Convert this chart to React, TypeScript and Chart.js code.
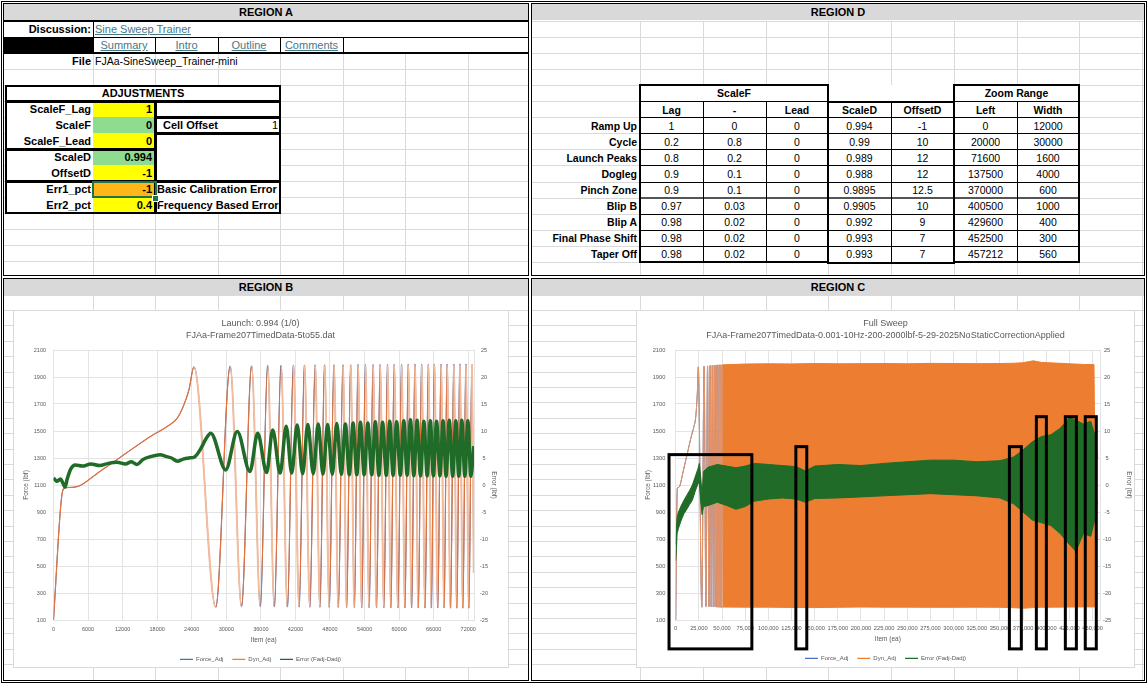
import React, { useEffect, useRef } from 'react';
import { Chart, registerables } from 'chart.js';
Chart.register(...registerables);

// ---------------- TABLE DATA ----------------
const linkLabels = ['Summary', 'Intro', 'Outline', 'Comments'];
const adjLabels = ['ScaleF_Lag', 'ScaleF', 'ScaleF_Lead', 'ScaleD', 'OffsetD', 'Err1_pct', 'Err2_pct'];
const adjValues = ['1', '0', '0', '0.994', '-1', '-1', '0.4'];
const adjNotes = ['', 'Cell Offset', '', '', '', 'Basic Calibration Error', 'Frequency Based Error'];
const adjNoteValues = ['', '1', '', '', '', '', ''];

const phaseHeaders = ['Lag', '-', 'Lead', 'ScaleD', 'OffsetD', 'Left', 'Width'];
const phaseNames = ['Ramp Up', 'Cycle', 'Launch Peaks', 'Dogleg', 'Pinch Zone', 'Blip B', 'Blip A', 'Final Phase Shift', 'Taper Off'];
const phaseLag = ['1', '0.2', '0.8', '0.9', '0.9', '0.97', '0.98', '0.98', '0.98'];
const phaseMid = ['0', '0.8', '0.2', '0.1', '0.1', '0.03', '0.02', '0.02', '0.02'];
const phaseLead = ['0', '0', '0', '0', '0', '0', '0', '0', '0'];
const phaseScaleD = ['0.994', '0.99', '0.989', '0.988', '0.9895', '0.9905', '0.992', '0.993', '0.993'];
const phaseOffsetD = ['-1', '10', '12', '12', '12.5', '10', '9', '7', '7'];
const zoomLeft = ['0', '20000', '71600', '137500', '370000', '400500', '429600', '452500', '457212'];
const zoomWidth = ['12000', '30000', '1600', '4000', '600', '1000', '400', '300', '560'];

// ---------------- CHART DATA ----------------
const forceTicks = [100, 300, 500, 700, 900, 1100, 1300, 1500, 1700, 1900, 2100];
const errorTicks = [-25, -20, -15, -10, -5, 0, 5, 10, 15, 20, 25];
const launchItemTicks = [0, 6000, 12000, 18000, 24000, 30000, 36000, 42000, 48000, 54000, 60000, 66000, 72000];
const sweepItemTicks = [0, 25000, 50000, 75000, 100000, 125000, 150000, 175000, 200000, 225000, 250000, 275000, 300000, 325000, 350000, 375000, 400000, 425000, 450000];
const legendNames = ['Force_Adj', 'Dyn_Adj', 'Error (Fadj-Dadj)'];

// Launch (Region B) Dyn_Adj vertices [item, lbf]
const launchDyn = [
  [0, 100], [1430, 1017], [2000, 1080], [3170, 1082], [4620, 1096], [5790, 1128], [8100, 1202], [11020, 1288],
  [13920, 1375], [16830, 1460], [19740, 1534], [21490, 1596], [22640, 1694], [23510, 1805],
  [24390, 1975], [28170, 195], [30670, 1980], [32640, 200], [34390, 1982], [35900, 200], [37180, 1985], [38340, 198],
  [39500, 1985], [40610, 196], [41650, 1988], [42640, 196], [43570, 1988], [44500, 195], [45430, 1990], [46250, 195],
  [47060, 1990], [47870, 194], [48690, 1990], [49440, 194], [50260, 1990], [50890, 193], [51590, 1990], [52230, 193],
  [52870, 1992], [53510, 192], [54150, 1992], [54790, 192], [55490, 1992], [56070, 192], [56710, 1992], [57350, 191],
  [57990, 1993], [58570, 191], [59150, 1993], [59790, 190], [60430, 1993], [61010, 190], [61590, 1994], [62170, 190],
  [62750, 1994], [63330, 190], [63910, 1994], [64500, 189], [65080, 1994], [65600, 189], [66120, 1995], [66710, 189],
  [67290, 1995], [67810, 189], [68330, 1995], [68920, 188], [69500, 1995], [70020, 188], [70540, 1996], [71070, 188],
  [71590, 1996], [72110, 188], [72640, 1996], [72950, 450],
];

// Launch (Region B) Error vertices [item, lbf]
const launchErr = [
  [0, 1.3], [600, 0.7], [1200, 1.1], [1700, 0.2], [2000, -0.4], [2400, 1.2], [3000, 3.0], [3800, 3.7], [5000, 3.5],
  [6500, 3.9], [8000, 3.6], [9500, 4.0], [11000, 4.2], [12500, 3.9], [13500, 4.3], [14500, 3.8], [15500, 4.7],
  [17000, 5.3], [18500, 5.6], [19500, 5.3], [20500, 5.0], [21500, 4.4], [22500, 4.8], [23500, 5.0], [24500, 5.2],
  [25500, 6.6], [26500, 8.6], [27300, 9.6], [29900, 2.8], [31900, 9.9], [34100, 2.5], [35450, 9.6], [37000, 2.3],
  [38050, 10.2], [39350, 2.2], [40400, 10.9], [41350, 2.2], [42300, 11.1], [43250, 2.1], [44150, 11.2], [45100, 2.1],
  [45960, 11.3], [46780, 2.0], [47590, 11.2], [48400, 2.0], [49180, 11.4], [49970, 2.0], [50670, 11.3], [51350, 1.9],
  [52010, 11.5], [52650, 1.9], [53290, 11.6], [53930, 1.9], [54570, 11.5], [55250, 1.9], [55870, 11.7], [56490, 1.8],
  [57130, 11.6], [57770, 1.8], [58370, 11.8], [58950, 1.8], [59570, 11.7], [60210, 1.8], [60810, 11.9], [61390, 1.8],
  [61970, 12.1], [62550, 1.7], [63130, 12.0], [63710, 1.7], [64290, 11.8], [64880, 1.7], [65420, 11.9], [65940, 1.7],
  [66500, 11.8], [67090, 1.7], [67630, 11.9], [68150, 1.6], [68710, 12.0], [69300, 1.6], [69840, 11.9], [70360, 1.6],
  [70880, 12.0], [71410, 1.6], [71930, 11.9], [72450, 1.6], [72950, 7.2],
];

// Full sweep (Region C) dense orange envelope
const sweepBlockItem = [50260, 75000, 100000, 125000, 150000, 175000, 200000, 225000, 250000, 275000, 300000, 325000, 350000, 365000, 375000, 386000, 395000, 410000, 425000, 440000, 451500, 454000];
const sweepBlockTop = [1990, 1996, 1998, 1997, 2000, 1998, 1999, 2000, 1998, 2001, 2000, 1999, 2000, 2002, 2006, 2020, 2008, 2003, 1998, 1993, 1992, 210];
const sweepBlockBottom = [196, 195, 195, 193, 192, 194, 196, 195, 195, 194, 194, 195, 194, 191, 187, 192, 194, 195, 196, 197, 197, 196];

// Full sweep (Region C) green error envelope
const sweepErrItem = [0, 800, 1500, 3000, 6000, 9000, 12000, 15000, 18000, 21000, 24000, 25500, 27000, 28500, 30000, 35000, 45000, 55000, 65000, 75000, 85000, 100000, 115000, 130000, 140000, 150000, 175000, 200000, 225000, 250000, 275000, 300000, 325000, 350000, 365000, 375000, 385000, 395000, 405000, 415000, 425000, 432000, 440000, 448000, 453000, 455000];
const sweepErrTop = [-11, -8, -6, -5, -3.8, -2.8, -1.9, -1, 0, 1.5, 3, 4, 1.5, -2, 2.5, 3.3, 3.8, 3.5, 3.2, 3.5, 4, 3.8, 3.6, 3.4, 2.6, 3.5, 3.8, 3.6, 4, 4.3, 4.6, 4.6, 4.3, 4.5, 5.2, 6.5, 8, 9, 9.3, 10.5, 12.5, 12, 11.3, 11.8, 9, 5];
const sweepErrBottom = [-14, -12, -9, -8, -6.5, -5.3, -4.5, -3.6, -2.8, -1.2, 0.2, 0.5, -3, -5.5, -4, -3.8, -3.2, -3.8, -4.5, -4, -3, -2.6, -2.4, -2.6, -3.2, -2.5, -2.4, -2.2, -2, -1.8, -1.6, -1.8, -2, -2.4, -3.5, -5, -6.5, -7, -7.5, -9, -11, -12.3, -9, -9.5, -6, -3];

// Zoom range boxes drawn on the full sweep (item range, top in lbf)
const zoomBoxFrom = [-7200, 129700, 360200, 389300, 420600, 442100];
const zoomBoxTo = [82200, 141500, 373100, 400100, 432500, 454000];
const zoomBoxTop = [1325, 1384, 1384, 1606, 1606, 1606];
const zoomBoxBase = -114;

// ---------------- STYLE ----------------
const FONT = '"Liberation Sans", Arial, Helvetica, sans-serif';
const SHEET_GRID = '#DADADA';
const HEAD_BG = '#D9D9D9';
const LINK = '#467886';
const YELLOW = '#FFFF00';
const GREEN_CELL = '#8FDB8F';
const ORANGE_CELL = '#FFB619';
const TXT = '#595959';
const GRID = '#E3E3E3';
const FORCE_C = '#4472C4';
const DYN_C = '#ED7D31';
const DYN_DARK = '#E5733A';
const DYN_LIGHT = '#F3BC9C';
const DYN_EARLY = '#EE9460';
const ERR_C = '#1F6B27';

// ---------------- HELPERS ----------------
type TP = { x: number; y: number; w: number; h: number; t?: string; a?: 'left' | 'right' | 'center'; b?: boolean; s?: number; c?: string; u?: boolean; bg?: string; pl?: number; pr?: number };
function T(p: TP) {
  return (
    <div style={{ position: 'absolute', left: p.x, top: p.y, width: p.w, height: p.h, background: p.bg, color: p.c || '#000', fontWeight: p.b ? 700 : 400, fontSize: p.s || 11, lineHeight: p.h + 'px', textAlign: p.a || 'left', paddingLeft: p.pl || 0, paddingRight: p.pr || 0, boxSizing: 'border-box', textDecoration: p.u ? 'underline' : 'none', whiteSpace: 'nowrap' }}>{p.t}</div>
  );
}
function Rc(p: { x: number; y: number; w: number; h: number; bw?: number; c?: string; bg?: string }) {
  return <div style={{ position: 'absolute', left: p.x, top: p.y, width: p.w, height: p.h, border: (p.bw ?? 1) + 'px solid ' + (p.c || '#000'), background: p.bg, boxSizing: 'border-box' }} />;
}
function HL(x1: number, x2: number, y: number, t = 1, c = '#000') {
  return <div style={{ position: 'absolute', left: x1, top: y - t / 2, width: x2 - x1, height: t, background: c }} />;
}
function VL(x: number, y1: number, y2: number, t = 1, c = '#000') {
  return <div style={{ position: 'absolute', left: x - t / 2, top: y1, width: t, height: y2 - y1, background: c }} />;
}

const pts = (pairs: number[][]) => pairs.map(([x, y]) => ({ x, y }));
const zipPts = (xs: number[], ys: number[]) => xs.map((x, i) => ({ x, y: ys[i] }));
const legendColors = [FORCE_C, DYN_C, ERR_C];
const legendItems = () => legendNames.map((text, i) => ({ text, fillStyle: legendColors[i], strokeStyle: legendColors[i], lineWidth: 1.2, pointStyle: 'line', hidden: false, datasetIndex: i, fontColor: TXT }));

const font = (size: number) => ({ family: FONT, size, weight: 'normal' as const });

function axes(o: any) {
  return {
    x: {
      type: 'linear', min: 0, max: o.xMax,
      afterBuildTicks: (s: any) => { s.ticks = o.xTicks.map((v: number) => ({ value: v })); },
      afterFit: (s: any) => { s.height = o.xH; },
      ticks: { color: TXT, font: font(o.tickSize), padding: o.xPad, maxRotation: 0, minRotation: 0, autoSkip: false, callback: o.xFmt },
      grid: { color: GRID, drawTicks: false }, border: { color: GRID },
      title: { display: true, text: 'Item (ea)', color: TXT, font: font(6.5), padding: { top: 0, bottom: o.xTitlePad } },
    },
    y: {
      type: 'linear', position: 'left', min: 100, max: 2100,
      afterBuildTicks: (s: any) => { s.ticks = forceTicks.map((v) => ({ value: v })); },
      afterFit: (s: any) => { s.width = o.yW; },
      ticks: { color: TXT, font: font(o.tickSize), padding: o.yPad, callback: (v: any) => String(v) },
      grid: { color: GRID, drawTicks: false }, border: { color: GRID },
      title: { display: true, text: 'Force (lbf)', color: TXT, font: font(6.5), padding: { top: o.yTitlePad, bottom: 0 } },
    },
    y2: {
      type: 'linear', position: 'right', min: -25, max: 25,
      afterBuildTicks: (s: any) => { s.ticks = errorTicks.map((v) => ({ value: v })); },
      afterFit: (s: any) => { s.width = o.y2W; },
      ticks: { color: TXT, font: font(o.tickSize), padding: o.y2Pad, crossAlign: 'center', callback: (v: any) => String(v) },
      grid: { display: false, drawTicks: false }, border: { display: true, color: GRID },
      title: { display: true, text: 'Error (lbf)', color: TXT, font: font(6.5), padding: { top: o.y2TitlePad, bottom: 0 } },
    },
  };
}

function plugins(title: string, sub: string, titleSize: number) {
  return {
    title: { display: true, text: title, color: TXT, font: font(titleSize), padding: { top: 8.1, bottom: 1.5 } },
    subtitle: { display: true, text: sub, color: TXT, font: font(titleSize), padding: { top: 0, bottom: 8.8 } },
    legend: { position: 'bottom', labels: { usePointStyle: true, pointStyleWidth: 13, padding: 9, color: TXT, font: font(6), generateLabels: legendItems } },
    tooltip: { enabled: false },
  };
}

// ---------------- CHART B ----------------
function LaunchChart() {
  const ref = useRef<HTMLCanvasElement>(null);
  useEffect(() => {
    const dynPts = pts(launchDyn);
    const down = (c: any) => c.p1.parsed.y < c.p0.parsed.y;
    const chart = new Chart(ref.current as HTMLCanvasElement, {
      type: 'line',
      data: {
        datasets: [
          { label: 'Force_Adj', data: dynPts, borderColor: FORCE_C, borderWidth: 1, pointRadius: 0, cubicInterpolationMode: 'monotone', yAxisID: 'y', order: 3 },
          { label: 'Dyn_Adj', data: dynPts, borderColor: DYN_DARK, borderWidth: 1.2, pointRadius: 0, cubicInterpolationMode: 'monotone', yAxisID: 'y', order: 2,
            segment: { borderColor: (c: any) => (down(c) ? DYN_LIGHT : DYN_DARK), borderWidth: (c: any) => (down(c) ? 2 : 1.2) } },
          { label: 'Error (Fadj-Dadj)', data: pts(launchErr), borderColor: ERR_C, borderWidth: 3.5, pointRadius: 0, cubicInterpolationMode: 'monotone', yAxisID: 'y2', order: 1 },
        ],
      },
      options: {
        responsive: false, animation: false, events: [],
        layout: { padding: { left: 3, right: 4, top: 0, bottom: 2.7 } },
        plugins: plugins('Launch: 0.994 (1/0)', 'FJAa-Frame207TimedData-5to55.dat', 9) as any,
        scales: axes({ xMax: 73000, xTicks: launchItemTicks, xH: 27.3, tickSize: 5.5, xPad: 6, xFmt: (v: any) => String(v), xTitlePad: 3.4, yW: 37.5, yPad: 7.5, yTitlePad: 6.8, y2W: 31, y2Pad: 6, y2TitlePad: 7.1 }) as any,
      },
    } as any);
    return () => chart.destroy();
  }, []);
  return <canvas ref={ref} width={496} height={365} style={{ position: 'absolute', left: 13, top: 310, width: 496, height: 365 }} />;
}

// ---------------- CHART C ----------------
const zoomBoxPlugin = {
  id: 'zoomBoxes',
  afterDraw(chart: any) {
    const { ctx, scales } = chart;
    ctx.save();
    ctx.strokeStyle = '#000';
    ctx.lineWidth = 3;
    zoomBoxFrom.forEach((from, i) => {
      const l = scales.x.getPixelForValue(from);
      const r = scales.x.getPixelForValue(zoomBoxTo[i]);
      const t = scales.y.getPixelForValue(zoomBoxTop[i]);
      const b = scales.y.getPixelForValue(zoomBoxBase);
      ctx.strokeRect(l, t, r - l, b - t);
    });
    ctx.restore();
  },
};

function SweepChart() {
  const ref = useRef<HTMLCanvasElement>(null);
  useEffect(() => {
    const early = pts(launchDyn.filter((p) => p[0] <= sweepBlockItem[0]));
    const chart = new Chart(ref.current as HTMLCanvasElement, {
      type: 'line',
      data: {
        datasets: [
          { label: 'Force_Adj', data: early, borderColor: FORCE_C, borderWidth: 1, pointRadius: 0, cubicInterpolationMode: 'monotone', yAxisID: 'y', order: 6 },
          { label: 'Dyn_Adj', data: zipPts(sweepBlockItem, sweepBlockTop), borderColor: DYN_C, backgroundColor: DYN_C, borderWidth: 1, pointRadius: 0, fill: 2, yAxisID: 'y', order: 5 },
          { label: 'dyn-low', data: zipPts(sweepBlockItem, sweepBlockBottom), borderColor: DYN_C, borderWidth: 1, pointRadius: 0, yAxisID: 'y', order: 4 },
          { label: 'dyn-early', data: early, borderColor: DYN_EARLY, borderWidth: 1, pointRadius: 0, cubicInterpolationMode: 'monotone', yAxisID: 'y', order: 3 },
          { label: 'Error (Fadj-Dadj)', data: zipPts(sweepErrItem, sweepErrTop), borderColor: ERR_C, backgroundColor: ERR_C, borderWidth: 1, pointRadius: 0, fill: 5, yAxisID: 'y2', order: 2 },
          { label: 'err-low', data: zipPts(sweepErrItem, sweepErrBottom), borderColor: ERR_C, borderWidth: 1, pointRadius: 0, yAxisID: 'y2', order: 1 },
        ],
      },
      options: {
        responsive: false, animation: false, events: [],
        layout: { padding: { left: 2, right: 2, top: 0, bottom: 3.7 } },
        plugins: plugins('Full Sweep', 'FJAa-Frame207TimedData-0.001-10Hz-200-2000lbf-5-29-2025NoStaticCorrectionApplied', 9) as any,
        scales: axes({ xMax: 458000, xTicks: sweepItemTicks, xH: 26.3, tickSize: 5.7, xPad: 4.9, xFmt: (v: any) => Number(v).toLocaleString('en-US'), xTitlePad: 3.4, yW: 37.7, yPad: 10.4, yTitlePad: 6.4, y2W: 33, y2Pad: 3, y2TitlePad: 0 }) as any,
      },
      plugins: [zoomBoxPlugin],
    } as any);
    return () => chart.destroy();
  }, []);
  return <canvas ref={ref} width={499} height={365} style={{ position: 'absolute', left: 636, top: 310, width: 499, height: 365 }} />;
}

// ---------------- REGIONS ----------------
const A_COLS = [93, 155, 218, 280, 343, 405, 468];
const D_COLS = [640, 703, 766, 828, 891, 954, 1017, 1079, 1142];
const ry = (k: number) => 21 + 16.1 * k;

function RegionA() {
  const els: any[] = [];
  for (let k = 0; k < 16; k++) els.push(HL(4, 528, 21 + 16 * k, 1, SHEET_GRID));
  A_COLS.forEach((x) => els.push(VL(x, 21, 275, 1, SHEET_GRID)));
  els.push(<div style={{ position: 'absolute', left: 4, top: 4, width: 524, height: 16, background: HEAD_BG }} />);
  els.push(T({ x: 4, y: 4, w: 524, h: 16, t: 'REGION A', a: 'center', b: true }));
  els.push(<div style={{ position: 'absolute', left: 4, top: 21, width: 524, height: 32, background: '#fff' }} />);
  els.push(<div style={{ position: 'absolute', left: 4, top: 37, width: 89, height: 16, background: '#000' }} />);
  els.push(T({ x: 4, y: 21, w: 89, h: 16, t: 'Discussion:', a: 'right', b: true, pr: 2 }));
  els.push(T({ x: 95, y: 21, w: 200, h: 16, t: 'Sine Sweep Trainer', c: LINK, u: true }));
  linkLabels.forEach((l, i) => els.push(T({ x: A_COLS[i], y: 37, w: A_COLS[i + 1] - A_COLS[i], h: 16, t: l, a: 'center', c: LINK, u: true })));
  els.push(HL(4, 528, 21, 2));
  els.push(HL(93, 528, 37, 1));
  els.push(VL(93, 21, 53, 1));
  [155, 218, 280, 343].forEach((x) => els.push(VL(x, 37, 53, 1)));
  els.push(HL(4, 528, 53, 2));
  els.push(T({ x: 4, y: 53, w: 89, h: 16, t: 'File', a: 'right', b: true, pr: 2 }));
  els.push(T({ x: 95, y: 53, w: 200, h: 16, t: 'FJAa-SineSweep_Trainer-mini', s: 10.5 }));
  els.push(<div style={{ position: 'absolute', left: 5, top: 85, width: 276, height: 128, background: '#fff' }} />);
  els.push(T({ x: 5, y: 85, w: 276, h: 16, t: 'ADJUSTMENTS', a: 'center', b: true }));
  const fills = [YELLOW, GREEN_CELL, YELLOW, GREEN_CELL, YELLOW, ORANGE_CELL, YELLOW];
  adjLabels.forEach((l, i) => {
    const y = 101 + 16 * i;
    els.push(T({ x: 5, y, w: 88, h: 16, t: l, a: 'right', b: true, pr: 2 }));
    els.push(T({ x: 93, y, w: 62, h: 16, t: adjValues[i], a: 'right', b: true, pr: 3, bg: fills[i] }));
    if (adjNotes[i]) els.push(T({ x: i === 1 ? 163 : 157, y, w: 120, h: 16, t: adjNotes[i], b: true }));
    if (adjNoteValues[i]) els.push(T({ x: 218, y, w: 62, h: 16, t: adjNoteValues[i], a: 'right', pr: 2 }));
  });
  els.push(<Rc x={5} y={85} w={276} h={17} bw={2} />);
  els.push(<Rc x={5} y={101} w={151} h={49} bw={2} />);
  els.push(<Rc x={5} y={149} w={151} h={33} bw={2} />);
  els.push(<Rc x={5} y={181} w={151} h={33} bw={2} />);
  els.push(<Rc x={155} y={101} w={126} h={17} bw={2} />);
  els.push(<Rc x={155} y={117} w={126} h={17} bw={2} />);
  els.push(<Rc x={155} y={133} w={126} h={49} bw={2} />);
  els.push(<Rc x={155} y={181} w={126} h={33} bw={2} />);
  els.push(<Rc x={92} y={181} w={65} h={17} bw={2} c="#217346" />);
  els.push(<div style={{ position: 'absolute', left: 152, top: 195, width: 5, height: 5, background: '#217346', border: '1px solid #fff' }} />);
  return <>{els.map((e, i) => React.cloneElement(e, { key: 'a' + i }))}</>;
}

function RegionD() {
  const els: any[] = [];
  for (let k = 0; k < 16; k++) els.push(HL(532, 1144, ry(k), 1, SHEET_GRID));
  D_COLS.forEach((x) => els.push(VL(x, 21, 275, 1, SHEET_GRID)));
  els.push(<div style={{ position: 'absolute', left: 532, top: 4, width: 612, height: 16, background: HEAD_BG }} />);
  els.push(T({ x: 532, y: 4, w: 612, h: 16, t: 'REGION D', a: 'center', b: true }));
  const h = 16.1;
  els.push(<div style={{ position: 'absolute', left: 640, top: ry(4), width: 439, height: ry(15) - ry(4), background: '#fff' }} />);
  els.push(T({ x: 640, y: ry(4), w: 188, h, t: 'ScaleF', a: 'center', b: true, s: 10.5 }));
  els.push(T({ x: 954, y: ry(4), w: 125, h, t: 'Zoom Range', a: 'center', b: true, s: 10.5 }));
  phaseHeaders.forEach((t, i) => els.push(T({ x: D_COLS[i], y: ry(5), w: D_COLS[i + 1] - D_COLS[i], h, t, a: 'center', b: true, s: 10.5 })));
  const cols = [phaseLag, phaseMid, phaseLead, phaseScaleD, phaseOffsetD, zoomLeft, zoomWidth];
  phaseNames.forEach((n, r) => {
    const y = ry(6 + r);
    els.push(T({ x: 532, y, w: 106, h, t: n, a: 'right', b: true, s: 10.5, pr: 1 }));
    cols.forEach((col, i) => els.push(T({ x: D_COLS[i], y, w: D_COLS[i + 1] - D_COLS[i], h, t: col[r], a: 'center', s: 10.5 })));
  });
  for (let k = 6; k <= 14; k++) els.push(HL(640, 1079, ry(k), k === 11 ? 2 : 1, k === 11 ? '#555' : '#000'));
  els.push(HL(640, 828, ry(5), 1));
  els.push(HL(954, 1079, ry(5), 1));
  [703, 766, 891, 1017].forEach((x) => els.push(VL(x, ry(5), ry(15), 1)));
  els.push(<Rc x={639} y={ry(4) - 1} w={190} h={ry(15) - ry(4) + 2} bw={2} />);
  els.push(<Rc x={827} y={ry(5) - 1} w={128} h={ry(15) - ry(5) + 2} bw={2} />);
  els.push(<Rc x={953} y={ry(4) - 1} w={127} h={ry(15) - ry(4) + 2} bw={2} />);
  return <>{els.map((e, i) => React.cloneElement(e, { key: 'd' + i }))}</>;
}

function LowerGrid(x1: number, x2: number, cols: number[], key: string) {
  const els: any[] = [];
  for (let k = 0; k < 26; k++) { const y = 295 + 15.4 * k; if (y < 680) els.push(HL(x1, x2, y, 1, SHEET_GRID)); }
  cols.forEach((x) => { if (x > x1 && x < x2) els.push(VL(x, 295, 680, 1, SHEET_GRID)); });
  return <>{els.map((e, i) => React.cloneElement(e, { key: key + i }))}</>;
}

export default function App() {
  return (
    <div style={{ position: 'absolute', left: 0, top: 0, width: 1148, height: 684, background: '#fff', overflow: 'hidden', fontFamily: FONT }}>
      <RegionA />
      <RegionD />
      {LowerGrid(4, 528, A_COLS, 'gb')}
      {LowerGrid(532, 1144, D_COLS, 'gc')}
      <div style={{ position: 'absolute', left: 4, top: 279, width: 524, height: 16, background: HEAD_BG }} />
      {T({ x: 4, y: 279, w: 524, h: 16, t: 'REGION B', a: 'center', b: true })}
      <div style={{ position: 'absolute', left: 532, top: 279, width: 612, height: 16, background: HEAD_BG }} />
      {T({ x: 532, y: 279, w: 612, h: 16, t: 'REGION C', a: 'center', b: true })}
      <div style={{ position: 'absolute', left: 13, top: 310, width: 496, height: 358, background: '#fff', border: '1px solid #D9D9D9', boxSizing: 'border-box' }} />
      <div style={{ position: 'absolute', left: 636, top: 310, width: 499, height: 358, background: '#fff', border: '1px solid #D9D9D9', boxSizing: 'border-box' }} />
      <LaunchChart />
      <SweepChart />
      <Rc x={1} y={1} w={1146} h={682} bw={1} />
      <Rc x={3} y={3} w={526} h={273} bw={1} />
      <Rc x={531} y={3} w={614} h={273} bw={1} />
      <Rc x={3} y={278} w={526} h={403} bw={1} />
      <Rc x={531} y={278} w={614} h={403} bw={1} />
    </div>
  );
}
